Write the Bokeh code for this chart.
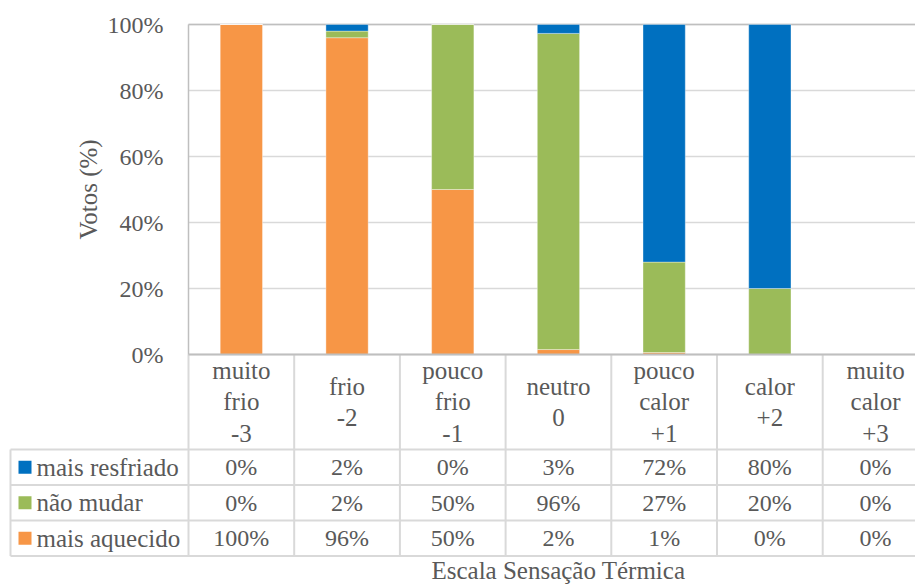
import math
from bokeh.plotting import figure
from bokeh.models import Range1d, ColumnDataSource
from bokeh.core.properties import value
from bokeh.embed import file_html
from bokeh.resources import INLINE

# ---------------- data ----------------
categories = ["muito\nfrio\n-3", "frio\n-2", "pouco\nfrio\n-1", "neutro\n0",
              "pouco\ncalor\n+1", "calor\n+2", "muito\ncalor\n+3"]
series_names = ["mais resfriado", "não mudar", "mais aquecido"]
mais_aquecido = [100, 96, 50, 1.5, 0.6, 0, 0]
nao_mudar = [0, 2, 50, 95.8, 27.4, 20, 0]
mais_resfriado = [0, 2, 0, 2.7, 72.0, 80, 0]
y_ticks = [0, 20, 40, 60, 80, 100]
y_tick_labels = ["0%", "20%", "40%", "60%", "80%", "100%"]
y_title = "Votos (%)"
x_title = "Escala Sensação Térmica"
colors = {"mais aquecido": "#F79646", "não mudar": "#9BBB59", "mais resfriado": "#0070C0"}

FONT = value("Liberation Serif")
TXT = "#595959"
FS_NUM = "24px"
FS_TXT = "25px"
GRID = "#d9d9d9"
AXIS = "#bfbfbf"

# ---------------- layout constants (pixels) ----------------
W, H = 915, 586
LEFT = 188          # px where the category area begins
CAT_W = 105.7       # px per category
TOP = 24            # px of the 100% line
PX_PER_PCT = 3.3    # px per percent
HEADER_BOTTOM = 449
ROW_H = 35.5


def ux(px):
    """page x pixel -> data x"""
    return (px - LEFT) / CAT_W


def uy(py):
    """page y pixel -> data y (percent)"""
    return 100 - (py - TOP) / PX_PER_PCT


p = figure(width=W, height=H, x_range=Range1d(ux(0), ux(W)), y_range=Range1d(uy(H), uy(0)),
           output_backend="svg", toolbar_location=None,
           x_axis_location=None, y_axis_location=None, min_border=0,
           min_border_left=0, min_border_right=0, min_border_top=0, min_border_bottom=0)
p.outline_line_color = None
p.grid.visible = False
p.background_fill_color = "white"

n = len(categories)
xs = [i + 0.5 for i in range(n)]
x_end = ux(W) + 0.5

# grid lines
p.segment(x0=[0] * len(y_ticks), x1=[x_end] * len(y_ticks), y0=y_ticks, y1=y_ticks,
          line_color=GRID, line_width=1.5)
p.segment(x0=[0], x1=[x_end], y0=[max(y_ticks)], y1=[max(y_ticks)], line_color=AXIS, line_width=1.5)

# bars
src = ColumnDataSource(dict(x=xs, aquecido=mais_aquecido, mudar=nao_mudar, resfriado=mais_resfriado))
p.vbar_stack(["aquecido", "mudar", "resfriado"], x="x", width=0.4, source=src,
             color=[colors["mais aquecido"], colors["não mudar"], colors["mais resfriado"]],
             line_color="white", line_width=0.6, line_alpha=0.6)

# y axis: tick labels and title
p.text(x=[ux(163)] * len(y_ticks), y=y_ticks, text=y_tick_labels, text_font=FONT,
       text_font_size=FS_NUM, text_color=TXT, text_align="right", text_baseline="middle")
p.text(x=[ux(87.5)], y=[50], text=[y_title], text_font=FONT, text_font_size=FS_TXT,
       text_color=TXT, text_align="center", text_baseline="middle", angle=math.pi / 2)

# ---------------- data table ----------------
row_edges = [uy(HEADER_BOTTOM + k * ROW_H) for k in range(4)]
leg_left = ux(10)
table_bottom = row_edges[-1]

# horizontal lines
p.segment(x0=[leg_left] * 4, x1=[x_end] * 4, y0=row_edges, y1=row_edges,
          line_color=GRID, line_width=2)
# vertical lines at category boundaries
bounds = list(range(1, n + 1))
p.segment(x0=bounds, x1=bounds, y0=[0] * len(bounds), y1=[table_bottom] * len(bounds),
          line_color=GRID, line_width=2)
p.segment(x0=[0], x1=[0], y0=[0], y1=[table_bottom], line_color=GRID, line_width=2)
p.segment(x0=[leg_left], x1=[leg_left], y0=[row_edges[0]], y1=[table_bottom],
          line_color=GRID, line_width=2)
# axis lines
p.segment(x0=[0], x1=[0], y0=[0], y1=[100], line_color=AXIS, line_width=1.5)
p.segment(x0=[0], x1=[x_end], y0=[0], y1=[0], line_color=AXIS, line_width=2)

# header labels
p.text(x=xs, y=[(0 + row_edges[0]) / 2] * n, text=categories, text_font=FONT,
       text_font_size=FS_TXT, text_color=TXT, text_align="center", text_baseline="middle",
       text_line_height=1.15)

rows = [mais_resfriado, nao_mudar, mais_aquecido]
for r, (name, vals) in enumerate(zip(series_names, rows)):
    yc = (row_edges[r] + row_edges[r + 1]) / 2
    p.text(x=xs, y=[yc] * n, text=[f"{round(v)}%" for v in vals], text_font=FONT,
           text_font_size=FS_NUM, text_color=TXT, text_align="center", text_baseline="middle")
    p.scatter(x=[ux(24.5)], y=[yc], marker="square", size=13,
              fill_color=colors[name], line_color=None)
    p.text(x=[ux(36)], y=[yc], text=[name], text_font=FONT,
           text_font_size=FS_TXT, text_color=TXT, text_align="left", text_baseline="middle")

# x axis title
p.text(x=[n / 2], y=[uy(570)], text=[x_title], text_font=FONT, text_font_size=FS_TXT,
       text_color=TXT, text_align="center", text_baseline="middle")

open("out.html", "w").write(file_html(p, INLINE))
